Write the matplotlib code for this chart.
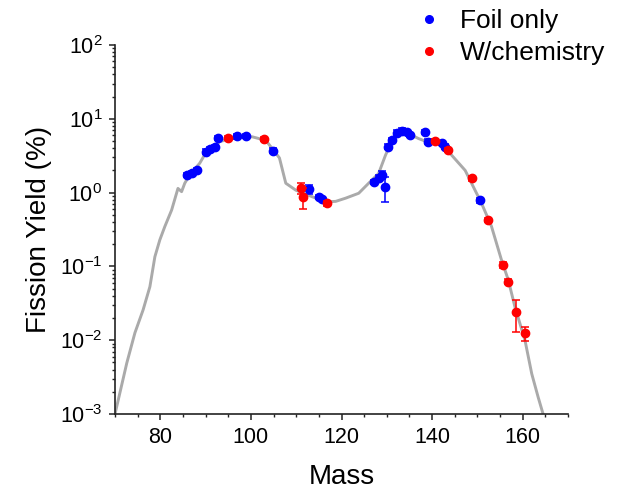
import numpy as np
import matplotlib
matplotlib.use("Agg")
import matplotlib.pyplot as plt
from matplotlib.lines import Line2D
from matplotlib.ticker import LogLocator, LogFormatterMathtext, MultipleLocator, NullFormatter

plt.rcParams['font.family'] = ['Liberation Sans', 'DejaVu Sans']
plt.rcParams['mathtext.fontset'] = 'custom'
plt.rcParams['mathtext.rm'] = 'Liberation Sans'

# Gray reference curve (mass, yield %)
curve_mass = [70, 72.6, 74.4, 76.2, 77.7, 78.8, 79.9, 81.0, 82.5, 83.9, 84.7, 85.4, 86.5, 88.7,
              90.1, 93.1, 96.0, 100.3, 103.3, 106.3, 107.7, 109.9, 113.5, 116.5, 118.7, 120.9,
              123.8, 126.0, 128.2, 129.7, 131.2, 133.4, 134.8, 137.0, 139.2, 141.4, 143.6, 147.3,
              150.9, 153.1, 155.3, 156.8, 158.3, 160.5, 162.0, 163.4, 164.5, 165.5]
curve_yield = [0.001, 0.0049, 0.0126, 0.0257, 0.053, 0.135, 0.229, 0.347, 0.58, 1.14, 1.03, 1.34,
               1.74, 2.5, 3.5, 4.9, 5.5, 5.7, 5.1, 2.95, 1.34, 1.08, 0.88, 0.75, 0.76, 0.84,
               0.98, 1.34, 1.82, 3.2, 5.1, 6.8, 6.3, 5.4, 4.8, 4.6, 3.6, 2.0,
               0.72, 0.35, 0.123, 0.066, 0.028, 0.01, 0.0035, 0.0017, 0.001, 0.0007]

# Foil only (blue)
foil_mass = [86, 87, 88, 90, 91, 92, 92.7, 97, 99, 104.8, 112.9, 115.1, 115.8, 127.1, 128.2,
             129.0, 129.7, 130.2, 131.2, 132.3, 133.4, 134.5, 135.2, 138.5, 139.2, 142.2, 142.9, 150.6]
foil_yield = [1.75, 1.85, 2.0, 3.6, 3.9, 4.1, 5.5, 5.8, 5.9, 3.7, 1.12, 0.88, 0.82, 1.4, 1.6,
              1.75, 1.2, 4.2, 5.1, 6.5, 6.9, 6.6, 6.0, 6.6, 4.9, 4.7, 4.2, 0.79]
foil_err = [0.12, 0.12, 0.14, 0.25, 0.27, 0.28, 0.4, 0.4, 0.4, 0.26, 0.15, 0.06, 0.06, 0.1, 0.11,
            0.2, 0.45, 0.3, 0.35, 0.45, 0.5, 0.45, 0.4, 0.45, 0.35, 0.33, 0.3, 0.06]

# With chemistry (red)
chem_mass = [94.9, 103.0, 111.0, 111.4, 116.9, 140.7, 143.6, 148.7, 152.4, 155.7, 156.8, 158.6, 160.6]
chem_yield = [5.5, 5.3, 1.15, 0.88, 0.72, 5.0, 3.8, 1.56, 0.425, 0.105, 0.062, 0.024, 0.0124]
chem_err = [0.4, 0.35, 0.2, 0.28, 0.06, 0.35, 0.28, 0.12, 0.03, 0.009, 0.005, 0.011, 0.0025]

fig = plt.figure(figsize=(6.23, 4.9), dpi=100)
ax = fig.add_axes([115/623, 76/490, (568-115)/623, (414-45)/490])

ax.plot(curve_mass, curve_yield, color='#aaaaaa', lw=2.1, zorder=1, clip_on=True)
ax.errorbar(foil_mass, foil_yield, yerr=foil_err, fmt='o', color='#0000ff', ms=6,
            capsize=3, elinewidth=1.1, capthick=1.1, zorder=3, mec='#0000ff')
ax.errorbar(chem_mass, chem_yield, yerr=chem_err, fmt='o', color='#ff0000', ms=6,
            capsize=3, elinewidth=1.1, capthick=1.1, zorder=4, mec='#ff0000')

ax.set_yscale('log')
ax.set_xlim(70, 170)
ax.set_ylim(1e-3, 1e2)
ax.xaxis.set_major_locator(MultipleLocator(20))
ax.xaxis.set_minor_locator(MultipleLocator(5))
ax.yaxis.set_major_locator(LogLocator(base=10, numticks=10))
ax.yaxis.set_minor_locator(LogLocator(base=10, subs=np.arange(2, 10), numticks=20))
ax.yaxis.set_major_formatter(LogFormatterMathtext())
ax.yaxis.set_minor_formatter(NullFormatter())

for s in ['top', 'right']:
    ax.spines[s].set_visible(False)
for s in ['left', 'bottom']:
    ax.spines[s].set_linewidth(1.2)
    ax.spines[s].set_color('#222222')
ax.tick_params(which='major', direction='out', length=4, width=1.1, labelsize=15.5,
               color='#222222', pad=5)
ax.tick_params(which='minor', direction='out', length=2.5, width=1.0, color='#222222')

ax.set_xlabel('Mass', fontsize=20, labelpad=12)
ax.set_ylabel('Fission Yield (%)', fontsize=20, labelpad=6)

handles = [Line2D([], [], ls='none', marker='o', color='#0000ff', ms=5.5),
           Line2D([], [], ls='none', marker='o', color='#ff0000', ms=5.5)]
fig.legend(handles, ['Foil only', 'W/chemistry'], loc='upper left',
           bbox_to_anchor=(403/623, 1.003), frameon=False, fontsize=19,
           handletextpad=0.55, labelspacing=0.3, borderaxespad=0.0, handlelength=1.2)

fig.savefig('out.png', dpi=100)
